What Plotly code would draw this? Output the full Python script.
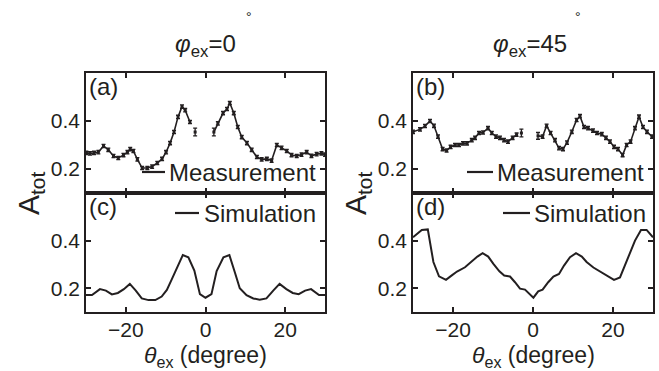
import plotly.graph_objects as go

# ---------------- data ----------------
meas_a_theta = [-29.9,-29.0,-28.0,-26.9,-25.6,-24.4,-23.1,-21.9,-20.6,-19.6,-18.9,-18.1,-17.1,-15.9,-14.6,
                -13.4,-12.1,-10.9,-9.9,-8.9,-7.9,-6.9,-5.9,-5.1,-3.9,-3.2,-2.6,0.0,2.1,3.1,4.4,5.4,6.1,7.1,8.1,
                9.1,10.4,11.6,12.9,14.1,15.4,16.6,17.9,19.1,20.4,21.6,22.9,24.1,25.4,26.6,27.9,29.1,30.0]
meas_a_val = [0.267,0.265,0.267,0.27,0.296,0.28,0.254,0.246,0.258,0.27,0.283,0.275,0.24,0.204,0.204,
              0.21,0.225,0.242,0.27,0.308,0.354,0.417,0.46,0.445,0.396,None,0.354,None,0.354,0.39,0.433,0.45,0.475,0.433,0.375,
              0.333,0.308,0.28,0.25,0.24,0.242,0.235,0.30,0.288,0.275,0.258,0.254,0.26,0.27,0.255,0.262,0.265,0.26]
meas_a_err = [0.007]*26 + [0.016, 0.0, 0.016] + [0.007]*24

meas_b_theta = [-30.0,-28.25,-27.0,-25.75,-24.75,-23.75,-22.6,-21.6,-20.6,-19.5,-18.5,-17.5,-16.5,-15.3,-14.5,
                -13.5,-12.5,-11.25,-10.3,-9.25,-8.25,-7.25,-6.25,-5.1,-4.1,-3.5,-2.9,-1.0,1.25,2.4,3.4,4.4,5.5,6.5,7.5,
                8.5,9.7,10.9,11.75,12.75,13.75,15.0,16.0,17.2,18.25,19.25,20.25,21.25,22.4,23.4,24.4,25.5,26.5,27.5,28.5,29.75]
meas_b_val = [0.355,0.365,0.379,0.40,0.38,0.335,0.283,0.277,0.292,0.30,0.30,0.307,0.307,0.32,0.33,
              0.35,0.352,0.37,0.35,0.335,0.33,0.32,0.314,0.33,0.343,None,0.35,None,0.338,0.335,0.38,0.35,0.32,0.287,0.283,
              0.31,0.355,0.404,0.42,0.375,0.37,0.36,0.35,0.345,0.33,0.314,0.292,0.283,0.258,0.30,0.314,0.37,0.418,0.375,0.355,0.335]
meas_b_err = [0.007]*26 + [0.016, 0.0, 0.014] + [0.007]*27

sim_c_theta = [-30,-28.5,-26.5,-25,-23.5,-22,-20.5,-19,-17.5,-16,-14.3,-12.6,-11,-9.7,-8.5,-7.2,-5.7,-4.3,-2.8,-1.4,
               0,1.5,2.8,4.5,6,7.4,8.6,10.3,12,13.6,15.3,17,18.6,20.3,21.9,23.4,25,26.5,28.5,30]
sim_c_val = [0.171,0.171,0.196,0.19,0.174,0.18,0.196,0.218,0.19,0.157,0.15,0.15,0.165,0.193,0.236,0.286,0.339,0.33,0.274,0.175,
             0.16,0.175,0.272,0.33,0.339,0.265,0.2,0.171,0.157,0.152,0.157,0.19,0.218,0.196,0.18,0.175,0.19,0.196,0.171,0.171]

sim_d_theta = [-30,-27.8,-26.3,-24.9,-23.5,-21.75,-20.3,-19,-17,-15.3,-13.9,-12.6,-11.2,-9.9,-8.4,-7.2,-5.75,-4.5,-3.25,-2,
               -0.9,0.1,1.3,2.4,3.8,5.1,6.5,7.75,9.25,10.75,12.2,13.4,15.1,16.75,18.4,20.25,21.75,23.4,25.5,27,28.4,30]
sim_d_val = [0.414,0.445,0.447,0.31,0.25,0.235,0.254,0.27,0.288,0.312,0.333,0.347,0.333,0.302,0.271,0.253,0.249,0.225,0.198,0.194,
             0.176,0.16,0.187,0.194,0.225,0.249,0.26,0.295,0.33,0.347,0.333,0.31,0.287,0.27,0.254,0.235,0.245,0.31,0.4,0.445,0.445,0.414]

x_ticks = [-20, 0, 20]
y_ticks = [0.2, 0.4]
y_tick_text = ["0.2", "0.4"]

# ---------------- layout helpers ----------------
W, H = 659, 371
def fx(p): return p / W
def fy(p): return 1 - p / H

INK = "#231f20"
FONT = "Liberation Sans, Arial, Helvetica, sans-serif"

LX = [86, 325]
RX = [413, 653]
TOP, MID, BOT = 73, 193, 312

fig = go.Figure()

def meas_trace(x, y, e, xa, ya):
    return go.Scatter(x=x, y=y, mode="lines+markers", xaxis=xa, yaxis=ya, connectgaps=False,
                      line=dict(color=INK, width=1.6), marker=dict(color=INK, size=3, symbol="square"),
                      error_y=dict(type="data", array=e, width=2, thickness=1.3, color=INK),
                      showlegend=False, hoverinfo="skip")

def sim_trace(x, y, xa, ya):
    return go.Scatter(x=x, y=y, mode="lines", xaxis=xa, yaxis=ya,
                      line=dict(color=INK, width=2), showlegend=False, hoverinfo="skip")

fig.add_trace(meas_trace(meas_a_theta, meas_a_val, meas_a_err, "x", "y"))
fig.add_trace(meas_trace(meas_b_theta, meas_b_val, meas_b_err, "x2", "y2"))
fig.add_trace(sim_trace(sim_c_theta, sim_c_val, "x3", "y3"))
fig.add_trace(sim_trace(sim_d_theta, sim_d_val, "x4", "y4"))

ax_common = dict(showline=True, linecolor=INK, linewidth=1.7, mirror="ticks", ticks="inside",
                 ticklen=5, tickwidth=1.5, tickcolor=INK, showgrid=False, zeroline=False,
                 tickfont=dict(family=FONT, size=21, color=INK))

def xax(dom, anchor, labels):
    d = dict(ax_common)
    d.update(domain=[fx(dom[0]), fx(dom[1])], range=[-30, 30], tickvals=x_ticks,
             showticklabels=labels, anchor=anchor, ticklabelstandoff=-2)
    return d

def yax(top, bot, anchor):
    d = dict(ax_common)
    d.update(domain=[fy(bot), fy(top)], range=[0.1, 0.6], tickvals=y_ticks, ticktext=y_tick_text,
             anchor=anchor)
    return d

fig.update_layout(
    width=W, height=H, margin=dict(l=0, r=0, t=0, b=0),
    paper_bgcolor="white", plot_bgcolor="white",
    xaxis=xax(LX, "y", False), yaxis=yax(TOP, MID, "x"),
    xaxis2=xax(RX, "y2", False), yaxis2=yax(TOP, MID, "x2"),
    xaxis3=xax(LX, "y3", True), yaxis3=yax(MID, BOT, "x3"),
    xaxis4=xax(RX, "y4", True), yaxis4=yax(MID, BOT, "x4"),
)

ann = []
def text(x, y, s, size, xanchor="center", yanchor="middle", angle=0):
    ann.append(dict(x=fx(x), y=fy(y), xref="paper", yref="paper", text=s, showarrow=False,
                    xanchor=xanchor, yanchor=yanchor, textangle=angle,
                    font=dict(family=FONT, size=size, color=INK)))

# titles
text(205, 45, "<i>φ</i><sub>ex</sub>=0", 24)
text(249, 17, "°", 14)
text(530, 45, "<i>φ</i><sub>ex</sub>=45", 24)
text(578, 17, "°", 14)
# panel labels
text(87, 86, "(a)", 24, xanchor="left")
text(414, 86, "(b)", 24, xanchor="left")
text(87, 206, "(c)", 24, xanchor="left")
text(414, 206, "(d)", 24, xanchor="left")
# y labels
text(30, 193, "A<sub>tot</sub>", 30, angle=-90)
text(357, 193, "A<sub>tot</sub>", 30, angle=-90)
# x labels
text(205, 356, "<i>θ</i><sub>ex</sub> (degree)", 23)
text(533, 356, "<i>θ</i><sub>ex</sub> (degree)", 23)
# legend texts
text(167, 172, "Measurement", 24, xanchor="left")
text(495, 172, "Measurement", 24, xanchor="left")
text(202, 213, "Simulation", 24, xanchor="left")
text(532, 213, "Simulation", 24, xanchor="left")
fig.update_layout(annotations=ann)

shapes = []
for x0, x1, y in [(142, 165, 172), (467, 493, 172), (175, 199, 213), (503, 530, 213)]:
    shapes.append(dict(type="line", xref="paper", yref="paper", x0=fx(x0), x1=fx(x1), y0=fy(y), y1=fy(y),
                       line=dict(color=INK, width=2.2)))
fig.update_layout(shapes=shapes)

fig.write_html("out.html")
